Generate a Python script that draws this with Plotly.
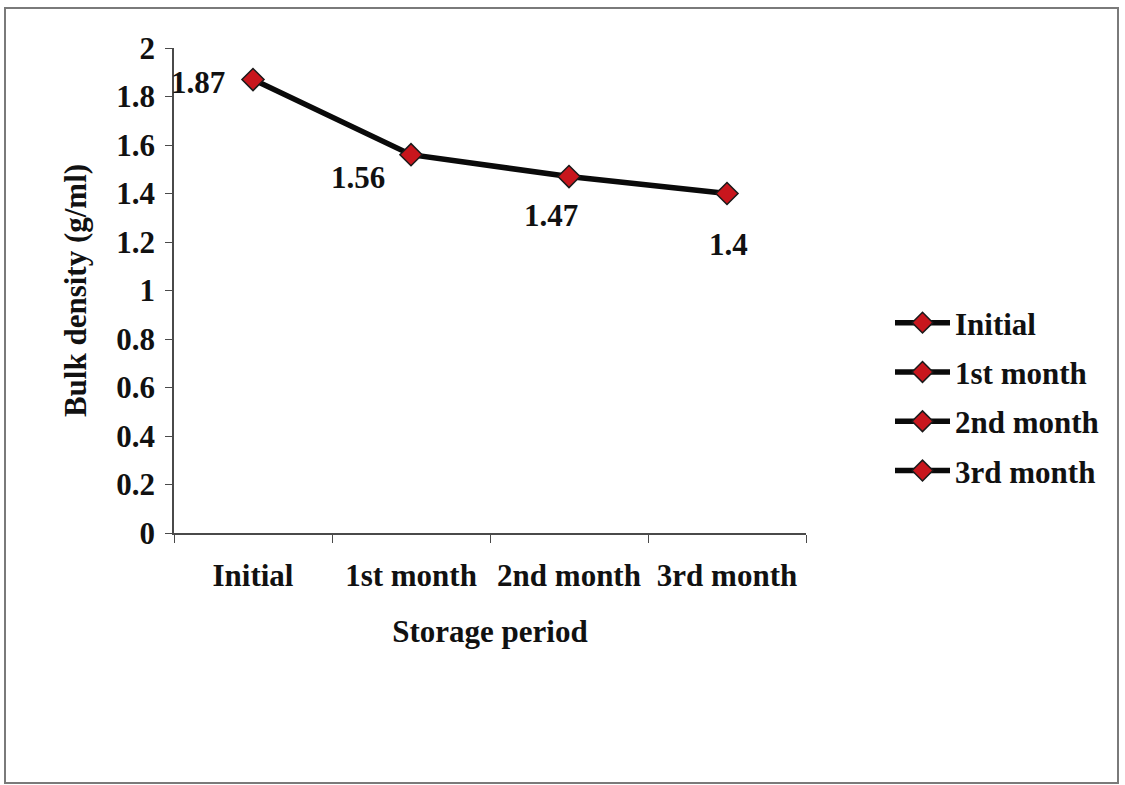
import plotly.graph_objects as go

# Storage period categories and measured bulk density (g/ml)
periods = ["Initial", "1st month", "2nd month", "3rd month"]
bulk_density = [1.87, 1.56, 1.47, 1.40]
value_labels = ["1.87", "1.56", "1.47", "1.4"]
y_ticks = [0, 0.2, 0.4, 0.6, 0.8, 1, 1.2, 1.4, 1.6, 1.8, 2]

W, H = 1125, 785
ML, MR, MT, MB = 174, 319, 48, 252

FONT = "Liberation Serif, Times New Roman, serif"
TEXT_SIZE = 31
LINE_COLOR = "#0a0a0a"
MARKER_FILL = "#c8161d"
AXIS_COLOR = "#4a4a4a"

marker_style = dict(symbol="diamond", size=17, color=MARKER_FILL,
                    line=dict(color="#1a1a1a", width=1.5))
line_style = dict(color=LINE_COLOR, width=5.5)

fig = go.Figure()

# main series
fig.add_trace(go.Scatter(
    x=periods, y=bulk_density, mode="lines+markers",
    line=line_style, marker=marker_style, showlegend=False,
    hoverinfo="x+y",
))

# one legend entry per storage period
for i, p in enumerate(periods):
    fig.add_trace(go.Scatter(
        x=[None], y=[None], mode="lines+markers", name=p,
        line=line_style, marker=marker_style,
        legendgroup=f"g{i}", showlegend=True,
    ))

# value labels, offset from their points in pixels
label_offsets = [(-55, -3), (-53, -23), (-18, -39), (1, -51)]
for p, v, t, (dx, dy) in zip(periods, bulk_density, value_labels, label_offsets):
    fig.add_annotation(
        x=p, y=v, text=t, showarrow=False,
        xshift=dx, yshift=dy,
        font=dict(family=FONT, size=TEXT_SIZE, color="#111111", weight="bold"),
    )

# thin grey frame around the whole chart
pw, ph = W - ML - MR, H - MT - MB
def px_to_paper_x(px):
    return (px - ML) / pw
def px_to_paper_y(py):
    return (H - MB - py) / ph
fig.add_shape(
    type="rect", xref="paper", yref="paper",
    x0=px_to_paper_x(5), x1=px_to_paper_x(1118),
    y0=px_to_paper_y(783), y1=px_to_paper_y(8),
    line=dict(color="#7a7a7a", width=2), fillcolor="rgba(0,0,0,0)",
    layer="below",
)

fig.update_layout(
    width=W, height=H,
    margin=dict(l=ML, r=MR, t=MT, b=MB),
    paper_bgcolor="white", plot_bgcolor="white",
    font=dict(family=FONT, size=TEXT_SIZE, color="#111111", weight="bold"),
    legend=dict(
        xref="container", yref="container",
        x=890 / W, y=1 - 296 / H, xanchor="left", yanchor="top",
        bgcolor="rgba(0,0,0,0)", itemwidth=55, tracegroupgap=6,
        font=dict(family=FONT, size=TEXT_SIZE, color="#111111", weight="bold"),
    ),
    xaxis=dict(
        type="category", range=[-0.5, 3.5],
        showline=True, linecolor=AXIS_COLOR, linewidth=1.5,
        ticks="outside", tickson="boundaries", ticklen=8, tickcolor=AXIS_COLOR,
        showgrid=False, zeroline=False, ticklabelstandoff=14,
        title=dict(text="Storage period", standoff=28,
                   font=dict(family=FONT, size=TEXT_SIZE, weight="bold")),
    ),
    yaxis=dict(
        range=[0, 2], tickvals=y_ticks,
        showline=True, linecolor=AXIS_COLOR, linewidth=1.5,
        ticks="outside", ticklen=7, tickcolor=AXIS_COLOR,
        showgrid=False, zeroline=False, ticklabelstandoff=4,
        title=dict(text="Bulk density (g/ml)", standoff=20,
                   font=dict(family=FONT, size=TEXT_SIZE, weight="bold")),
    ),
)

fig.write_html("out.html")
